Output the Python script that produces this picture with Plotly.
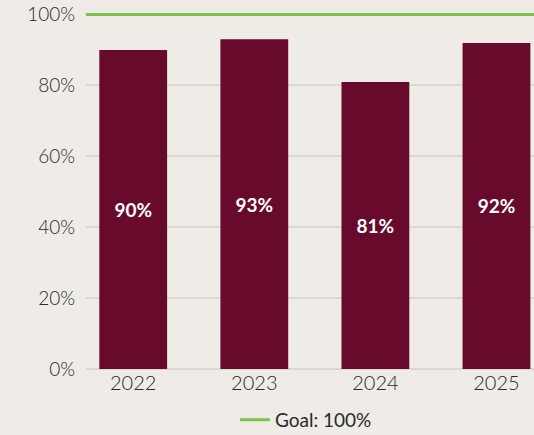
import plotly.graph_objects as go

years = ["2022", "2023", "2024", "2025"]
values = [90, 93, 81, 92]
labels = ["90%", "93%", "81%", "92%"]
goal = 100
goal_label = "Goal: 100%"
ytick_vals = [0, 20, 40, 60, 80, 100]
ytick_text = ["0%", "20%", "40%", "60%", "80%", "100%"]

BG = "#efebe6"
BAR = "#680a2c"
GREEN = "#7dc24b"
GRID = "#dcd7cf"
TXT = "#2a2a2a"

fig = go.Figure()
fig.add_trace(go.Bar(
    x=years, y=values, text=labels, textposition="inside",
    insidetextanchor="middle",
    textfont=dict(family="Lato", size=19, color="white", weight="bold"),
    marker=dict(color=BAR, line=dict(width=0)),
    width=0.56, showlegend=False, hoverinfo="skip",
))
fig.add_trace(go.Scatter(
    x=[None], y=[None], mode="lines", name=goal_label,
    line=dict(color=GREEN, width=3),
))
fig.add_shape(type="line", xref="paper", x0=0, x1=1, yref="y", y0=goal, y1=goal,
              line=dict(color=GREEN, width=3), layer="above")

fig.update_layout(
    width=534, height=435,
    margin=dict(l=86, r=0, t=11, b=66, autoexpand=False),
    paper_bgcolor=BG, plot_bgcolor=BG,
    font=dict(family="Lato", color=TXT),
    xaxis=dict(range=[-0.39, 3.31], showgrid=False, showline=False, zeroline=False,
               tickfont=dict(size=20, color=TXT, weight=300), ticks=""),
    yaxis=dict(range=[0, 101], tickvals=ytick_vals, ticktext=ytick_text,
               showgrid=True, gridcolor=GRID, gridwidth=2,
               zeroline=True, zerolinecolor=GRID, zerolinewidth=2,
               tickfont=dict(size=19, color=TXT, weight=300), ticklabelstandoff=10),
    legend=dict(orientation="h", x=0.491, xanchor="center",
                yref="container", y=0.035, yanchor="middle",
                font=dict(family="Lato", size=19, color=TXT), bgcolor="rgba(0,0,0,0)"),
    bargap=0.44,
)
fig.write_html("out.html")
